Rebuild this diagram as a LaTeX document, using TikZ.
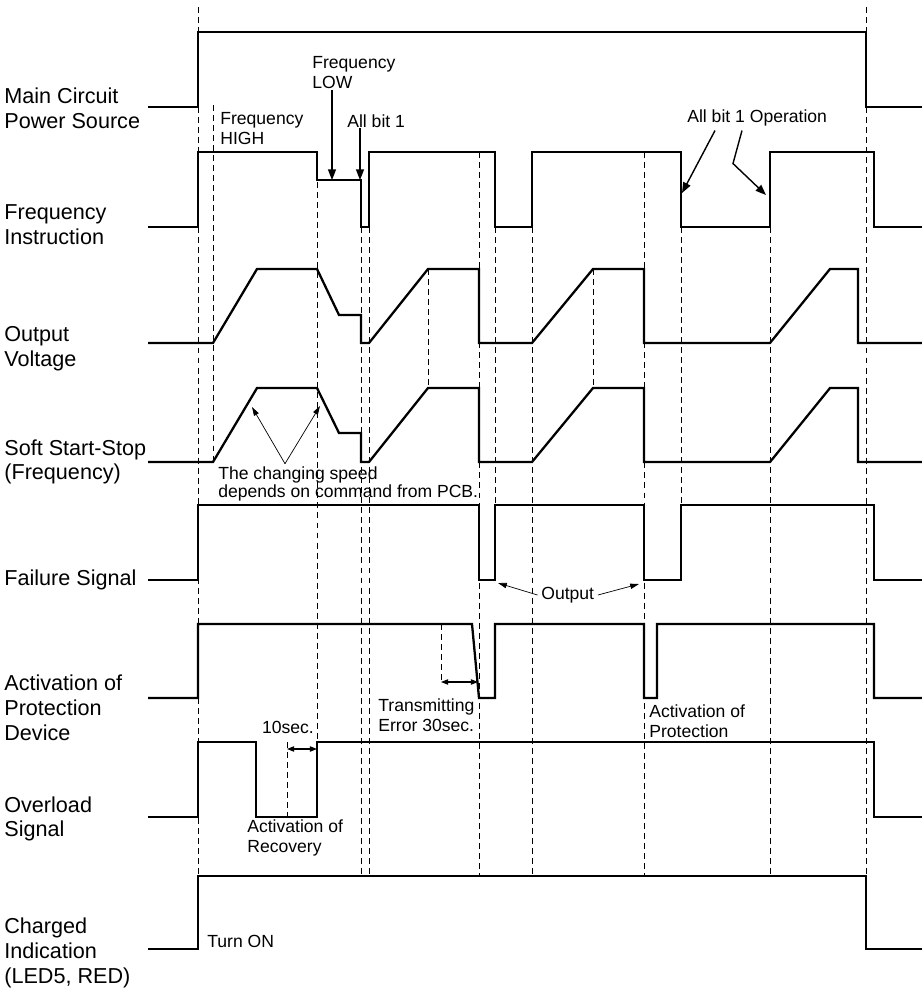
\documentclass[tikz,border=0pt]{standalone}
\usepackage{fontspec}
\setmainfont{Liberation Sans}
\usetikzlibrary{arrows.meta,calc}

\begin{document}
\begin{tikzpicture}[x=0.02cm,y=-0.02cm,
    sig/.style={line width=1.3pt,line join=miter},
    guide/.style={line width=0.5pt,dash pattern=on 3.4pt off 2.3pt},
    lbl/.style={anchor=west,align=left,inner sep=0pt,font=\fontsize{12.3}{14.1}\selectfont},
    note/.style={anchor=west,align=left,inner sep=0pt,font=\fontsize{10}{11.4}\selectfont},
    pointer/.style={line width=0.8pt,-{Triangle[length=6pt,width=4.5pt]}},
    thinpointer/.style={line width=0.4pt,-{Triangle[length=5pt,width=3pt]}},
    span/.style={line width=0.6pt,{Triangle[length=4pt,width=3pt]}-{Triangle[length=4pt,width=3pt]}}]
    \useasboundingbox (0,0) rectangle (922,992);

    % time marks
    \foreach \t/\a/\b in {198/7/876, 213/105/462, 317/182/742, 361/227/876, 369/227/876,
                          479/152/876, 495/227/505, 532/227/876, 644/152/876, 681/227/505,
                          770/227/876, 866/7/876, 428/269/388, 593/269/388, 441/624/683, 287/742/817}
        {\draw[guide] (\t,\a) -- (\t,\b);}

    % signal names
    \node[lbl] (mains) at (4,108) {Main Circuit\\Power Source};
    \node[lbl] (freq) at (4,225) {Frequency\\Instruction};
    \node[lbl] (volt) at (4,349) {Output\\Voltage};
    \node[lbl] (soft) at (4,462) {Soft Start-Stop\\(Frequency)};
    \node[lbl] (fail) at (4,580) {Failure Signal};
    \node[lbl] (prot) at (4,708) {Activation of\\Protection\\Device};
    \node[lbl] (over) at (4,819) {Overload\\Signal};
    \node[lbl] (charge) at (4,953) {Charged\\Indication\\(LED5, RED)};

    % waveforms
    \draw[sig] (148,107) -| (198,32) -| (866,107) -- (922,107);
    \draw[sig] (148,227) -| (198,152) -| (317,180) -| (361,227) -| (369,152) -| (495,227)
               -| (532,152) -| (681,227) -| (770,152) -| (874,227) -- (922,227);
    \foreach \hi/\md/\lo in {269/315/343, 388/433/462}
        {\draw[sig] (148,\lo) -- (213,\lo) -- (257,\hi) -- (317,\hi) -- (339,\md) -- (361,\md)
               -- (361,\lo) -- (369,\lo) -- (428,\hi) -- (479,\hi) -- (479,\lo) -- (532,\lo)
               -- (593,\hi) -- (644,\hi) -- (644,\lo) -- (770,\lo) -- (830,\hi) -- (858,\hi)
               -- (858,\lo) -- (922,\lo);}
    \draw[sig] (148,580) -| (198,505) -| (479,580) -| (495,505) -| (644,580) -| (681,505)
               -| (874,580) -- (922,580);
    \draw[sig] (148,698) -| (198,624) -- (472,624) -- (479,698) -| (495,624) -| (644,698)
               -| (657,624) -| (874,698) -- (922,698);
    \draw[sig] (148,817) -| (198,742) -| (256,817) -| (317,742) -| (874,817) -- (922,817);
    \draw[sig] (148,949) -| (198,876) -| (866,949) -- (922,949);

    % notes
    \node[note] (fhigh) at (220,129) {Frequency\\HIGH};
    \node[note] (flow) at (312,73) {Frequency\\LOW};
    \node[note] (allbit) at (347,121) {All bit 1};
    \node[note] (allop) at (687,118) {All bit 1 Operation};
    \node[note,font=\fontsize{10}{10}\selectfont] (speed) at (218,484) {The changing speed\\depends on command from PCB.};
    \node[note] (outp) at (541,595) {Output};
    \node[note] (trans) at (378,715) {Transmitting\\Error 30sec.};
    \node[note] (actprot) at (649,721) {Activation of\\Protection};
    \node[note,anchor=center] (tensec) at (288,727) {10sec.};
    \node[note] (recov) at (247,838) {Activation of\\Recovery};
    \node[note] (turnon) at (207,941) {Turn ON};

    \coordinate (lowlvl) at (332,180);
    \coordinate (bitlvl) at (360,180);
    \coordinate (opfall) at (682,193);
    \coordinate (oprise) at (766,195);
    \coordinate (rampup) at (252,407);
    \coordinate (rampdn) at (320,406);
    \coordinate (failA) at (498,583);
    \coordinate (failB) at (639,584);

    \draw[pointer] (flow.south -| lowlvl) -- (lowlvl);
    \draw[pointer] (allbit.south -| bitlvl) -- (bitlvl);
    \draw[pointer] ($(allop.south west)+(28,4)$) -- (opfall);
    \draw[pointer] ($(allop.south west)+(55,4)$) -- ++(-9,33) -- (oprise);
    \draw[thinpointer] ($(speed.north west)+(67,-3)$) -- (rampup);
    \draw[thinpointer] ($(speed.north west)+(67,-3)$) -- (rampdn);
    \draw[thinpointer] ([xshift=-2pt]outp.west) -- (failA);
    \draw[thinpointer] ([xshift=2pt]outp.east) -- (failB);
    \draw[span] (441,682) -- (478,682);
    \draw[span] (287,749) -- (317,749);
\end{tikzpicture}
\end{document}
